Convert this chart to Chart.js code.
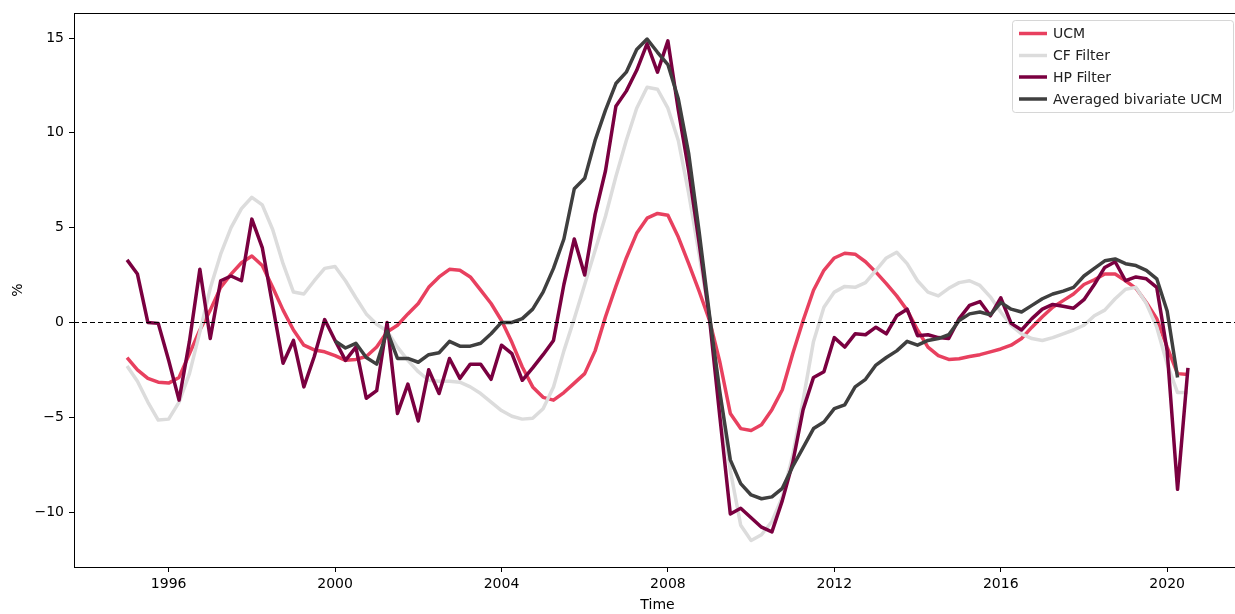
<!DOCTYPE html>
<html>
<head>
<meta charset="utf-8">
<script src="https://cdn.jsdelivr.net/npm/chart.js@4.4.0/dist/chart.umd.min.js"></script>
<style>
  html, body { margin: 0; padding: 0; background: #fff; overflow: hidden; }
  #wrap { width: 1250px; height: 614px; }
</style>
</head>
<body>
<div id="wrap"><canvas id="ciclo" width="1250" height="614"></canvas></div>
<script>
// quarterly observations 1995Q1 .. 2020Q3
const quarters = [];
for (let y = 1995; y <= 2020; y++) {
    for (let q = 1; q <= 4; q++) {
        if (y === 2020 && q > 3) break;
        quarters.push(y + 'Q' + q);
    }
}

const ucm = [
    -1.85, -2.5, -2.95, -3.15, -3.2, -2.9, -1.65, -0.4, 0.65, 1.85,
    2.55, 3.15, 3.5, 3.0, 1.85, 0.65, -0.4, -1.2, -1.45, -1.55,
    -1.75, -2.0, -1.95, -1.8, -1.3, -0.5, -0.15, 0.45, 1.0, 1.85,
    2.4, 2.8, 2.75, 2.4, 1.7, 1.0, 0.1, -1.05, -2.35, -3.4,
    -3.95, -4.1, -3.7, -3.2, -2.7, -1.5, 0.3, 1.9, 3.4, 4.7,
    5.5, 5.75, 5.65, 4.5, 3.1, 1.65, 0.1, -2.1, -4.8, -5.6,
    -5.7, -5.4, -4.6, -3.55, -1.65, 0.1, 1.7, 2.75, 3.4, 3.65,
    3.6, 3.2, 2.65, 2.05, 1.4, 0.65, -0.4, -1.3, -1.75, -1.95,
    -1.92, -1.8, -1.7, -1.55, -1.4, -1.2, -0.85, -0.25, 0.3, 0.8,
    1.15, 1.5, 2.0, 2.25, 2.55, 2.55, 2.2, 1.8, 1.05, 0.2,
    -1.3, -2.7, -2.75
];

const cf = [
    -2.3, -3.1, -4.2, -5.15, -5.1, -4.2, -2.7, -0.5, 1.8, 3.6,
    5.0, 6.0, 6.6, 6.2, 4.9, 3.1, 1.6, 1.5, 2.2, 2.85,
    2.95, 2.2, 1.3, 0.45, -0.1, -0.45, -1.3, -2.0, -2.6, -3.05,
    -3.1, -3.1, -3.15, -3.4, -3.75, -4.2, -4.65, -4.95, -5.1, -5.05,
    -4.55, -3.4, -1.5, 0.2, 2.0, 3.8, 5.6, 7.7, 9.6, 11.3,
    12.4, 12.3, 11.3, 9.6, 6.8, 3.6, 0.3, -3.8, -7.8, -10.7,
    -11.5, -11.2, -10.5, -9.2, -7.0, -4.1, -1.0, 0.8, 1.6, 1.9,
    1.85, 2.1, 2.75, 3.4, 3.7, 3.1, 2.2, 1.6, 1.4, 1.8,
    2.1, 2.2, 1.95, 1.35, 0.55, -0.15, -0.6, -0.85, -0.95, -0.8,
    -0.6, -0.4, -0.15, 0.35, 0.65, 1.25, 1.75, 1.85, 1.0, -0.25,
    -2.2, -3.7, -3.7
];

const hp = [
    3.3, 2.55, 0.0, -0.05, -2.0, -4.1, -1.0, 2.8, -0.85, 2.2,
    2.45, 2.2, 5.45, 3.95, 0.9, -2.15, -0.95, -3.4, -1.8, 0.15,
    -0.95, -2.0, -1.3, -4.0, -3.6, 0.0, -4.8, -3.25, -5.2, -2.5,
    -3.75, -1.9, -2.95, -2.2, -2.2, -3.0, -1.2, -1.65, -3.05, -2.4,
    -1.7, -0.95, 2.0, 4.4, 2.5, 5.7, 8.0, 11.4, 12.2, 13.3,
    14.7, 13.2, 14.85, 11.2, 8.0, 4.2, 0.2, -5.0, -10.1, -9.8,
    -10.3, -10.8, -11.05, -9.4, -7.4, -4.6, -2.9, -2.6, -0.8, -1.3,
    -0.6, -0.65, -0.25, -0.6, 0.35, 0.7, -0.7, -0.65, -0.8, -0.85,
    0.2, 0.9, 1.1, 0.35, 1.3, -0.05, -0.4, 0.2, 0.7, 0.95,
    0.85, 0.75, 1.2, 2.0, 2.9, 3.2, 2.2, 2.4, 2.3, 1.85,
    -1.5, -8.8, -2.4
];

const avg = [
    null, null, null, null, null, null, null, null, null, null,
    null, null, null, null, null, null, null, null, null, null,
    -0.98, -1.35, -1.1, -1.85, -2.2, -0.45, -1.9, -1.9, -2.1, -1.7,
    -1.6, -1.0, -1.25, -1.25, -1.1, -0.6, 0.0, 0.0, 0.2, 0.7,
    1.6, 2.85, 4.4, 7.05, 7.6, 9.6, 11.2, 12.6, 13.2, 14.4,
    14.95, 14.25, 13.6, 11.8, 8.9, 4.8, 0.4, -3.7, -7.25, -8.5,
    -9.1, -9.3, -9.2, -8.75, -7.6, -6.6, -5.6, -5.25, -4.55, -4.35,
    -3.4, -3.0, -2.25, -1.85, -1.5, -1.0, -1.2, -0.95, -0.85, -0.65,
    0.1, 0.45, 0.55, 0.4, 1.05, 0.7, 0.55, 0.9, 1.25, 1.5,
    1.65, 1.85, 2.45, 2.85, 3.25, 3.35, 3.1, 3.0, 2.75, 2.3,
    0.6, -2.9, null
];

const xTicks = [1996, 2000, 2004, 2008, 2012, 2016, 2020];
const yTicks = [-10, -5, 0, 5, 10, 15];

const fuente = "'DejaVu Sans', sans-serif";

// '1995Q2' -> 1995.25
function aAnio(q) {
    return parseInt(q.slice(0, 4)) + (parseInt(q.slice(5)) - 1) / 4;
}

function serie(label, valores, color, orden) {
    return {
        label: label,
        data: quarters.map((q, i) => ({ x: aAnio(q), y: valores[i] })),
        borderColor: color,
        backgroundColor: color,
        borderWidth: 3.5,
        pointRadius: 0,
        tension: 0,
        spanGaps: false,
        borderJoinStyle: 'round',
        order: orden
    };
}

const extras = {
    id: 'extras',
    afterDatasetsDraw(chart) {
        const { ctx, chartArea: a, scales: { y } } = chart;
        const y0 = Math.round(y.getPixelForValue(0)) + 0.5;
        ctx.save();
        ctx.strokeStyle = '#000';
        ctx.lineWidth = 1.2;
        ctx.setLineDash([5, 3]);
        ctx.beginPath();
        ctx.moveTo(a.left, y0);
        ctx.lineTo(a.right, y0);
        ctx.stroke();
        ctx.restore();
    },
    afterDraw(chart) {
        const { ctx, chartArea: a } = chart;
        ctx.save();
        ctx.strokeStyle = '#000';
        ctx.lineWidth = 1;
        ctx.strokeRect(Math.round(a.left) + 0.5, Math.round(a.top) + 0.5,
            Math.round(a.right - a.left), Math.round(a.bottom - a.top));

        // legend box, upper right
        const bx = 1012, by = 20, bw = 221, bh = 92;
        ctx.fillStyle = 'rgba(255,255,255,0.8)';
        ctx.strokeStyle = 'rgba(204,204,204,0.8)';
        ctx.beginPath();
        ctx.roundRect(bx + 0.5, by + 0.5, bw, bh, 3);
        ctx.fill();
        ctx.stroke();
        const filas = [33.5, 55.5, 77, 99];
        const sets = chart.data.datasets;
        ctx.font = '14px ' + fuente;
        ctx.textBaseline = 'middle';
        sets.forEach((ds, i) => {
            ctx.strokeStyle = ds.borderColor;
            ctx.lineWidth = 3.5;
            ctx.beginPath();
            ctx.moveTo(1019, filas[i]);
            ctx.lineTo(1047, filas[i]);
            ctx.stroke();
            ctx.fillStyle = '#222';
            ctx.fillText(ds.label, 1053, filas[i] + 1);
        });
        ctx.restore();
    }
};

const ctx = document.getElementById('ciclo').getContext('2d');
const grafica = new Chart(ctx, {
    type: 'line',
    data: {
        datasets: [
            serie('UCM', ucm, '#e8405f', 4),
            serie('CF Filter', cf, '#dcdcdc', 3),
            serie('HP Filter', hp, '#7a0040', 2),
            serie('Averaged bivariate UCM', avg, '#3f3f3f', 1)
        ]
    },
    options: {
        responsive: false,
        animation: false,
        devicePixelRatio: 1,
        layout: { padding: { top: 13, right: 9, left: 0, bottom: 0 } },
        plugins: {
            legend: { display: false },
            tooltip: { enabled: false }
        },
        scales: {
            x: {
                type: 'linear',
                min: 1993.725,
                max: 2021.775,
                afterBuildTicks: s => { s.ticks = xTicks.map(v => ({ value: v })); },
                afterFit: s => { s.height = 47; },
                border: { display: false },
                grid: { drawOnChartArea: false, drawTicks: true, tickLength: 5, color: '#000', tickColor: '#000' },
                ticks: {
                    color: '#000', padding: 4, maxRotation: 0,
                    font: { family: fuente, size: 14 },
                    callback: v => String(v)
                },
                title: {
                    display: true, text: 'Time', color: '#000',
                    font: { family: fuente, size: 14 },
                    padding: { top: 0, bottom: 0 }
                }
            },
            y: {
                min: -12.9,
                max: 16.3,
                afterBuildTicks: s => { s.ticks = yTicks.map(v => ({ value: v })); },
                afterFit: s => { s.width = 74; },
                border: { display: false },
                grid: { drawOnChartArea: false, drawTicks: true, tickLength: 5, color: '#000', tickColor: '#000' },
                ticks: {
                    color: '#000', padding: 5,
                    font: { family: fuente, size: 14 },
                    callback: v => (v < 0 ? '\u2212' + Math.abs(v) : String(v))
                },
                title: {
                    display: true, text: '%', color: '#000',
                    font: { family: fuente, size: 14 },
                    padding: { top: 10, bottom: 0 }
                }
            }
        }
    },
    plugins: [extras]
});
</script>
</body>
</html>
